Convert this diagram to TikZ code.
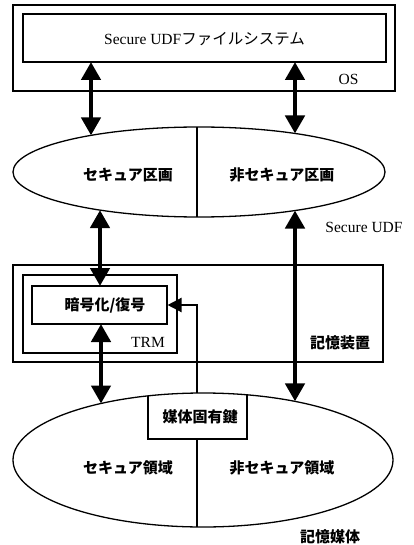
\documentclass[tikz,border=0pt]{standalone}
\usepackage{fontspec}
\setmainfont{Liberation Serif}
\newfontfamily\jp{Noto Sans CJK JP}
\usetikzlibrary{shapes.geometric,arrows.meta}
\begin{document}
\begin{tikzpicture}[x=1pt,y=-1pt,
  box/.style={draw,line width=1.1pt,inner sep=0pt,rectangle},
  oval/.style={draw,line width=1.3pt,inner sep=0pt,ellipse},
  lat/.style={font=\fontsize{15.5}{18}\selectfont,inner sep=0pt},
  jl/.style={font=\jp\bfseries\fontsize{15}{18}\selectfont,inner sep=0pt},
  thin/.style={line width=1.1pt},
  bigarrow/.style={line width=4.5pt,{Triangle[length=18pt,width=19pt]}-{Triangle[length=18pt,width=19pt]}},
  keyarrow/.style={line width=2.2pt,-{Triangle[length=14pt,width=14pt]}}]
\useasboundingbox (0,0) rectangle (413,545);
% OS
\node[box,minimum width=382pt,minimum height=86pt] (os) at (204,48) {};
\node[box,minimum width=363pt,minimum height=48pt] (fs) at (204.5,38) {};
\node[lat] (fstext) at (204.5,39) {Secure UDF{\jp ファイルシステム}};
\node[lat] (oslabel) at (348.5,79) {OS};
% partitions
\node[oval,minimum width=372pt,minimum height=90pt] (part) at (199,172) {};
\coordinate (pdt) at (197,127);
\coordinate (pdb) at (197,217);
\draw[thin] (pdt) -- (pdb);
\node[jl] (sec) at (128,175) {セキュア区画};
\node[jl] (nsec) at (282,175) {非セキュア区画};
\node[lat] (sudf) at (364,227) {Secure UDF};
% storage device
\node[box,minimum width=370pt,minimum height=97pt] (dev) at (198,313.5) {};
\node[box,minimum width=154pt,minimum height=78pt] (trm) at (100,314) {};
\node[box,minimum width=135pt,minimum height=38pt] (enc) at (99.5,305) {};
\node[jl] (enctext) at (105,305) {暗号化/復号};
\node[lat] (trmlabel) at (148,342) {TRM};
\node[jl] (devlabel) at (340,343) {記憶装置};
% medium
\node[oval,minimum width=380pt,minimum height=134pt] (media) at (203,460) {};
\coordinate (kl) at (148,395.9);
\coordinate (kr) at (247,394.8);
\coordinate (ktop) at (197,393);
\draw[thin] (kl) -- (148,439) -- (247,439) -- (kr);
\node[jl] (key) at (200,417) {媒体固有鍵};
\coordinate (mdt) at (197,439);
\coordinate (mdb) at (197,527);
\draw[thin] (mdt) -- (mdb);
\node[jl] (sarea) at (128,468) {セキュア領域};
\node[jl] (nsarea) at (282,468) {非セキュア領域};
\node[jl] (medlabel) at (330,537) {記憶媒体};
% arrow end points
\coordinate (a1s) at (91,62);
\coordinate (a1e) at (91,135.4);
\coordinate (a2s) at (295,62);
\coordinate (a2e) at (295,133.5);
\coordinate (a3s) at (100,210.1);
\coordinate (a3e) at (100,286);
\coordinate (a4s) at (295,210.5);
\coordinate (a4e) at (295,401.4);
\coordinate (a5s) at (101,324);
\coordinate (a5e) at (101,403.5);
\draw[bigarrow] (a1s) -- (a1e);
\draw[bigarrow] (a2s) -- (a2e);
\draw[bigarrow] (a3s) -- (a3e);
\draw[bigarrow] (a4s) -- (a4e);
\draw[bigarrow] (a5s) -- (a5e);
\draw[keyarrow] (ktop) |- (enc.east);
\end{tikzpicture}
\end{document}
